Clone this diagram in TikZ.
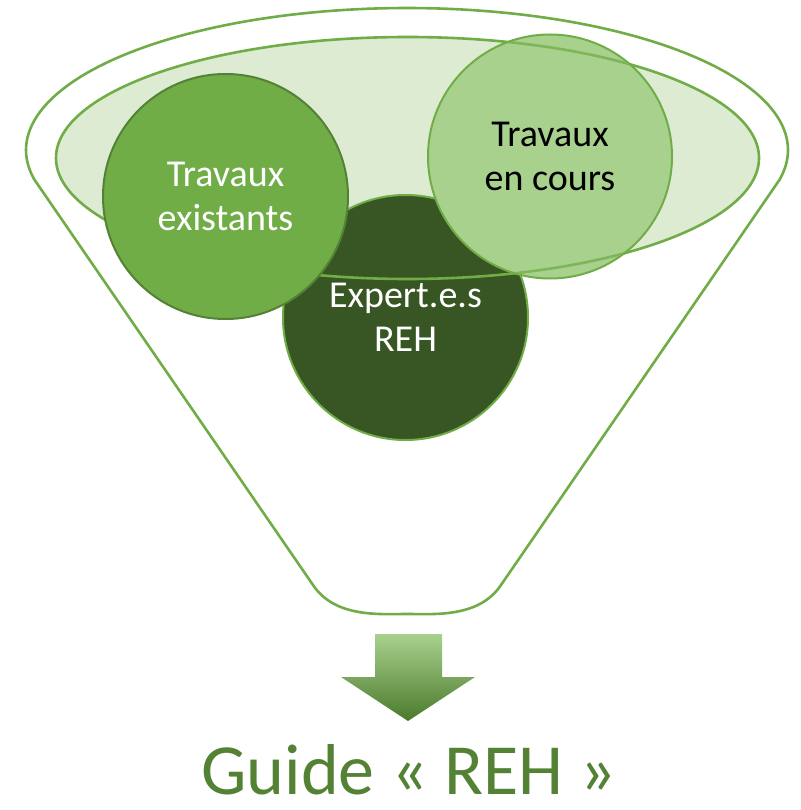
\documentclass[tikz,border=0pt]{standalone}
\usepackage{fontspec}
\setmainfont{Carlito}
\definecolor{gline}{HTML}{70AD47}
\definecolor{gfill}{HTML}{DDEBD3}
\definecolor{gdark}{HTML}{375623}
\definecolor{glight}{HTML}{A9D18E}
\definecolor{gborder}{HTML}{548235}
\definecolor{gtitle}{HTML}{548235}
\definecolor{garrowbot}{HTML}{4B7A2C}
\tikzset{
  outline/.style={draw=gline, line width=2.6pt},
  bubble/.style={circle, minimum size=245pt, inner sep=0pt, line width=2pt},
  bubbletext/.style={align=center, font=\fontsize{38}{44}\selectfont},
}
\begin{document}
\begin{tikzpicture}[x=1pt,y=-1pt]
\useasboundingbox (0,0) rectangle (800,810);
% funnel body
\path[outline, fill=white, line join=round]
  plot[domain=-12:192, samples=120] ({407+381*cos(\x)},{150-142*sin(\x)})
  -- (313,585) .. controls (335,618) and (380,614) .. (407,614)
  .. controls (434,614) and (479,618) .. (501,585) -- cycle;
% inner ellipse fill
\fill[gfill] (407.5,158) ellipse[x radius=351.5pt, y radius=121pt];
% expert circle
\node[bubble, fill=gdark, draw=gline] (expert) at (405.5,317.5) {};
% ellipse outline
\draw[outline] (407.5,158) ellipse[x radius=351.5pt, y radius=121pt];
% existing works circle
\node[bubble, fill=gline, draw=gborder] (exist) at (225.5,196.5) {};
% ongoing works circle
\node[bubble, fill=glight, draw=gline, minimum size=244pt] (cours) at (550,156.5) {};
\begin{scope}
  \clip (cours.center) circle[radius=121pt];
  \draw[draw=gline!90!white, line width=2.6pt] (407.5,158) ellipse[x radius=351.5pt, y radius=121pt];
\end{scope}
% texts
\node[bubbletext, text=white] (existtxt) at (exist.center) {Travaux\\existants};
\node[bubbletext, text=black] (courstxt) at (cours.center) {Travaux\\en cours};
\node[bubbletext, text=white] (experttxt) at (expert.center) {Expert.e.s\\REH};
% arrow
\shade[top color=glight, middle color=gline, bottom color=garrowbot]
  (375,634) -- (442,634) -- (442,677) -- (475,677) -- (408,721) -- (341,677) -- (375,677) -- cycle;
\node[anchor=base, text=gtitle, font=\fontsize{72}{80}\selectfont, inner sep=0pt] (title) at (409,794) {Guide « REH »};
\end{tikzpicture}
\end{document}
